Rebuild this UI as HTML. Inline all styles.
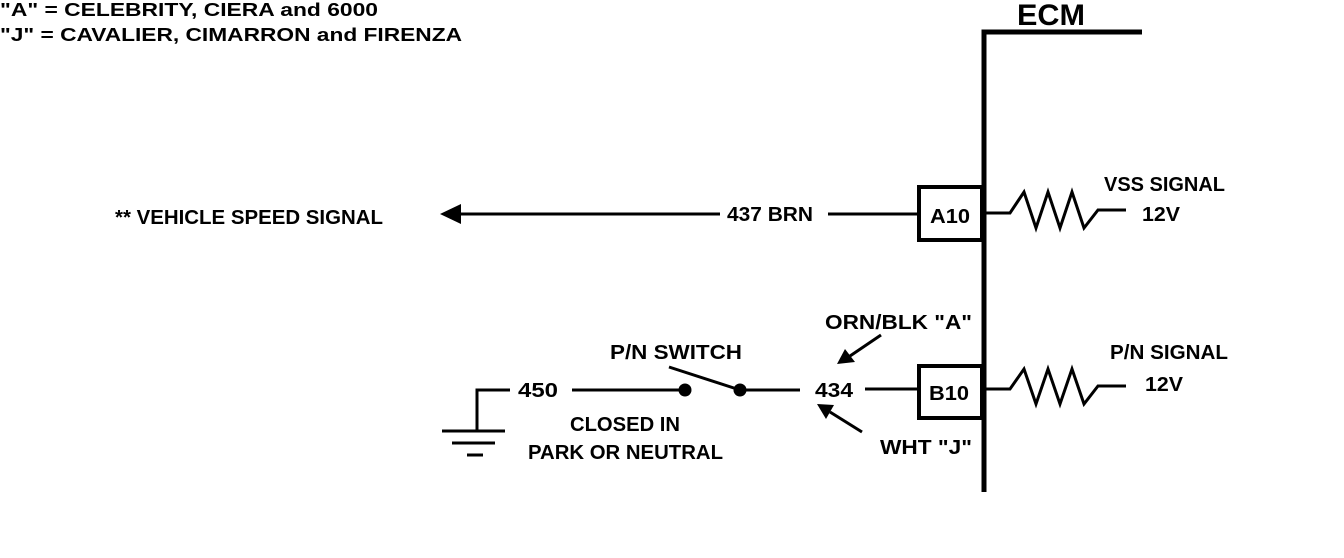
<!DOCTYPE html>
<html><head><meta charset="utf-8"><style>
html,body{margin:0;padding:0;background:#fff;}
svg{display:block}
text{font-family:"Liberation Sans",Arial,sans-serif;font-weight:bold;fill:#000}
</style></head><body>
<svg width="1344" height="558" viewBox="0 0 1344 558" xmlns="http://www.w3.org/2000/svg">
<rect width="1344" height="558" fill="#fff"/>
<text x="0" y="16" font-size="18" textLength="378" lengthAdjust="spacingAndGlyphs">"A"  =  CELEBRITY, CIERA and 6000</text>
<text x="0" y="41" font-size="18" textLength="462" lengthAdjust="spacingAndGlyphs">"J"  =  CAVALIER, CIMARRON and FIRENZA</text>
<text x="1017" y="25" font-size="30" textLength="68" lengthAdjust="spacingAndGlyphs">ECM</text>
<path d="M984 492 V32 H1142" fill="none" stroke="#000" stroke-width="5"/>
<rect x="919" y="187" width="63" height="53" fill="#fff" stroke="#000" stroke-width="4"/>
<text x="930" y="223" font-size="20" textLength="40" lengthAdjust="spacingAndGlyphs">A10</text>
<line x1="828" y1="214" x2="917" y2="214" stroke="#000" stroke-width="3"/>
<line x1="455" y1="214" x2="720" y2="214" stroke="#000" stroke-width="3"/>
<polygon points="440,214 461,204 461,224" fill="#000"/>
<text x="727" y="221" font-size="20" textLength="86" lengthAdjust="spacingAndGlyphs">437 BRN</text>
<text x="115" y="224" font-size="20" textLength="268" lengthAdjust="spacingAndGlyphs">** VEHICLE SPEED SIGNAL</text>
<polyline points="986,213 1010,213 1024,192 1036,228 1048,192 1060,228 1072,192 1084,228 1098,210 1126,210" fill="none" stroke="#000" stroke-width="3"/>
<text x="1104" y="191" font-size="20" textLength="121" lengthAdjust="spacingAndGlyphs">VSS SIGNAL</text>
<text x="1142" y="221" font-size="20" textLength="38" lengthAdjust="spacingAndGlyphs">12V</text>
<rect x="919" y="366" width="63" height="52" fill="#fff" stroke="#000" stroke-width="4"/>
<text x="929" y="400" font-size="20" textLength="40" lengthAdjust="spacingAndGlyphs">B10</text>
<line x1="865" y1="389" x2="917" y2="389" stroke="#000" stroke-width="3"/>
<polyline points="986,389 1010,389 1024,369 1036,404 1048,369 1060,404 1072,369 1084,404 1098,386 1126,386" fill="none" stroke="#000" stroke-width="3"/>
<text x="1110" y="359" font-size="20" textLength="118" lengthAdjust="spacingAndGlyphs">P/N SIGNAL</text>
<text x="1145" y="391" font-size="20" textLength="38" lengthAdjust="spacingAndGlyphs">12V</text>
<text x="815" y="397" font-size="20" textLength="38" lengthAdjust="spacingAndGlyphs">434</text>
<line x1="740" y1="390" x2="800" y2="390" stroke="#000" stroke-width="3"/>
<circle cx="740" cy="390" r="6.5" fill="#000"/>
<circle cx="685" cy="390" r="6.5" fill="#000"/>
<line x1="669" y1="367" x2="740" y2="390" stroke="#000" stroke-width="3"/>
<line x1="572" y1="390" x2="685" y2="390" stroke="#000" stroke-width="3"/>
<text x="518" y="397" font-size="20" textLength="40" lengthAdjust="spacingAndGlyphs">450</text>
<path d="M510 390 H477 V430" fill="none" stroke="#000" stroke-width="3"/>
<line x1="442" y1="431" x2="505" y2="431" stroke="#000" stroke-width="3"/>
<line x1="452" y1="443" x2="495" y2="443" stroke="#000" stroke-width="3"/>
<line x1="467" y1="455" x2="483" y2="455" stroke="#000" stroke-width="3"/>
<text x="610" y="359" font-size="20" textLength="132" lengthAdjust="spacingAndGlyphs">P/N SWITCH</text>
<text x="570" y="431" font-size="20" textLength="110" lengthAdjust="spacingAndGlyphs">CLOSED IN</text>
<text x="528" y="459" font-size="20" textLength="195" lengthAdjust="spacingAndGlyphs">PARK OR NEUTRAL</text>
<text x="825" y="329" font-size="20" textLength="147" lengthAdjust="spacingAndGlyphs">ORN/BLK "A"</text>
<text x="880" y="454" font-size="20" textLength="92" lengthAdjust="spacingAndGlyphs">WHT "J"</text>
<line x1="881" y1="335" x2="850" y2="356" stroke="#000" stroke-width="3"/>
<polygon points="837,364 845,349 855,362" fill="#000"/>
<line x1="862" y1="432" x2="830" y2="412" stroke="#000" stroke-width="3"/>
<polygon points="817,404 834,405 826,419" fill="#000"/>
</svg>
</body></html>
